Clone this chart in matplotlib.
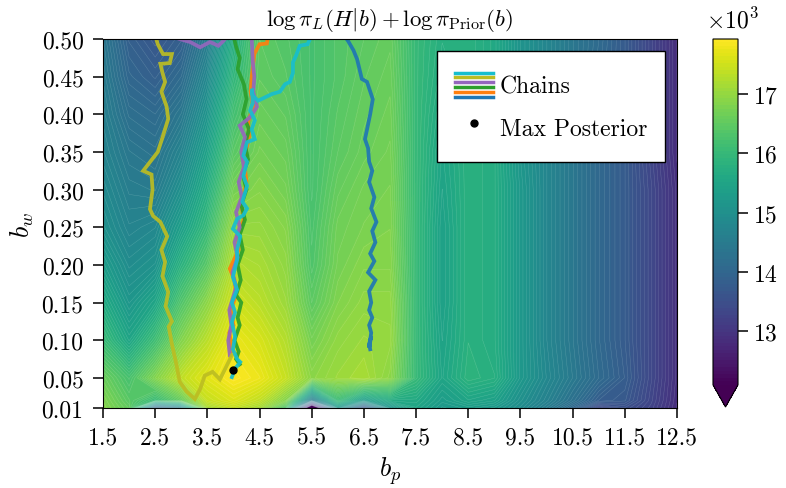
import numpy as np
import matplotlib
matplotlib.use('Agg')
import matplotlib.pyplot as plt
from matplotlib.legend_handler import HandlerBase
from matplotlib.lines import Line2D
from matplotlib.ticker import ScalarFormatter

plt.rcParams['font.family'] = 'serif'
plt.rcParams['font.serif'] = ['cmr10']
plt.rcParams['mathtext.fontset'] = 'cm'
plt.rcParams['axes.formatter.use_mathtext'] = True

# ---------------- data ----------------
b_p = [1.5, 2.0, 2.5, 3.0, 3.5, 4.0, 4.5, 5.0, 5.5, 6.0, 6.5, 7.0,
       7.5, 8.0, 8.5, 9.0, 9.5, 10.0, 10.5, 11.0, 11.5, 12.0, 12.5]
b_w = [0.01, 0.02, 0.05, 0.10, 0.15, 0.20, 0.25, 0.30, 0.35, 0.40, 0.45, 0.50]

# log posterior (in thousands), rows follow b_w, columns follow b_p
row_001 = [16.85, 16.5, 13.6, 14.3, 17.1, 17.35, 17.1, 16.2, 11.0, 15.0, 13.3, 15.0,
           15.5, 15.2, 15.3, 15.2, 14.9, 14.5, 14.0, 13.3, 13.5, 13.25, 12.85]
row_002 = [16.8, 16.4, 16.0, 16.5, 17.4, 17.6, 17.35, 16.8, 14.3, 16.0, 15.2, 15.6,
           15.6, 15.3, 15.5, 15.4, 15.0, 14.65, 14.25, 13.8, 13.7, 13.3, 12.87]
row_005 = [16.6, 16.2, 16.8, 17.35, 17.65, 17.9, 17.75, 17.4, 16.9, 17.05, 17.15, 16.9,
           16.0, 15.5, 15.85, 15.75, 15.2, 14.8, 14.45, 14.1, 13.8, 13.35, 12.9]
row_010 = [16.05, 15.5, 16.1, 16.8, 17.3, 17.75, 17.55, 17.25, 16.7, 16.95, 17.05, 17.0,
           16.0, 15.45, 15.8, 15.7, 15.2, 14.75, 14.4, 14.05, 13.75, 13.35, 12.9]
row_015 = [15.65, 15.15, 15.5, 16.3, 16.9, 17.5, 17.3, 17.05, 16.45, 16.8, 16.95, 16.95,
           16.0, 15.4, 15.8, 15.7, 15.2, 14.75, 14.4, 14.05, 13.75, 13.35, 12.9]
row_020 = [15.3, 14.9, 15.05, 15.8, 16.4, 17.25, 17.15, 16.95, 16.3, 16.7, 16.85, 16.85,
           16.0, 15.4, 15.8, 15.7, 15.2, 14.75, 14.4, 14.05, 13.75, 13.35, 12.9]
row_025 = [15.0, 14.7, 14.8, 15.35, 16.0, 17.0, 17.0, 16.85, 16.25, 16.65, 16.75, 16.8,
           16.0, 15.4, 15.8, 15.7, 15.2, 14.75, 14.4, 14.05, 13.75, 13.35, 12.9]
row_030 = [14.85, 14.55, 14.5, 15.0, 15.7, 16.7, 16.85, 16.7, 16.2, 16.55, 16.7, 16.75,
           16.0, 15.45, 15.8, 15.7, 15.2, 14.75, 14.4, 14.05, 13.75, 13.35, 12.9]
row_035 = [14.7, 14.4, 14.3, 14.7, 15.4, 16.4, 16.7, 16.6, 16.2, 16.45, 16.6, 16.7,
           16.0, 15.5, 15.8, 15.7, 15.15, 14.75, 14.4, 14.05, 13.75, 13.3, 12.85]
row_040 = [14.6, 14.2, 14.1, 14.4, 15.1, 16.15, 16.6, 16.5, 16.2, 16.4, 16.55, 16.65,
           16.0, 15.6, 15.8, 15.65, 15.1, 14.75, 14.4, 14.05, 13.75, 13.3, 12.85]
row_045 = [14.5, 14.0, 13.85, 14.1, 14.8, 15.9, 16.5, 16.4, 16.2, 16.35, 16.5, 16.6,
           16.0, 15.7, 15.8, 15.6, 15.1, 14.75, 14.4, 14.05, 13.75, 13.3, 12.85]
row_050 = [14.4, 13.85, 13.65, 13.85, 14.5, 15.7, 16.45, 16.35, 16.2, 16.35, 16.45, 16.55,
           16.0, 15.75, 15.8, 15.6, 15.1, 14.75, 14.4, 14.1, 13.75, 13.3, 12.85]

# MCMC chains (b_p, b_w)
chain_blue_bp = [6.12, 6.2, 6.3, 6.37, 6.46, 6.56, 6.67, 6.62, 6.56, 6.52, 6.58, 6.6, 6.66, 6.6,
                 6.7, 6.64, 6.74, 6.66, 6.72, 6.62, 6.7, 6.58, 6.72, 6.6, 6.64, 6.6, 6.66, 6.6,
                 6.64, 6.62, 6.6, 6.64, 6.6, 6.62]
chain_blue_bw = [0.505, 0.497, 0.485, 0.473, 0.447, 0.443, 0.42, 0.40, 0.38, 0.367, 0.355, 0.337,
                 0.325, 0.31, 0.29, 0.275, 0.257, 0.245, 0.23, 0.215, 0.205, 0.19, 0.18, 0.165,
                 0.15, 0.14, 0.13, 0.12, 0.11, 0.10, 0.09, 0.105, 0.095, 0.088]

chain_orange_bp = [4.99, 4.98, 4.9, 4.68, 4.64, 4.5, 4.4, 4.35, 4.33, 4.38, 4.28, 4.3, 4.2,
                   4.25, 4.15, 4.2, 4.08, 4.1, 3.93, 4.02, 4.05, 3.95, 4.0, 3.92, 3.96, 3.98]
chain_orange_bw = [0.52, 0.503, 0.515, 0.51, 0.494, 0.493, 0.48, 0.45, 0.43, 0.41, 0.39, 0.37,
                   0.34, 0.31, 0.28, 0.26, 0.24, 0.22, 0.195, 0.18, 0.16, 0.14, 0.12, 0.11,
                   0.095, 0.085]

chain_green_bp = [4.0, 4.05, 4.12, 4.08, 4.2, 4.25, 4.18, 4.3, 4.22, 4.28, 4.18, 4.25, 4.15,
                  4.22, 4.12, 4.18, 4.08, 4.14, 4.05, 4.15, 4.08, 4.12, 4.02, 4.1, 4.05, 4.12]
chain_green_bw = [0.505, 0.49, 0.475, 0.46, 0.44, 0.42, 0.40, 0.38, 0.36, 0.34, 0.32, 0.30, 0.28,
                  0.26, 0.24, 0.22, 0.20, 0.18, 0.16, 0.15, 0.13, 0.12, 0.10, 0.085, 0.075, 0.068]

chain_purple_bp = [2.97, 3.17, 3.36, 3.55, 3.71, 3.8, 3.9, 4.1, 4.35, 4.37, 4.4, 4.38, 4.45,
                   4.36, 4.3, 4.12, 4.22, 4.15, 4.2, 4.1, 4.16, 4.05, 4.12, 4.02, 4.08, 3.98,
                   4.05, 3.92, 3.96, 3.9, 3.93]
chain_purple_bw = [0.50, 0.496, 0.489, 0.496, 0.491, 0.497, 0.505, 0.52, 0.5, 0.47, 0.45, 0.43,
                   0.41, 0.40, 0.395, 0.385, 0.37, 0.35, 0.33, 0.31, 0.29, 0.27, 0.25, 0.23,
                   0.21, 0.19, 0.17, 0.14, 0.12, 0.1, 0.08]

chain_olive_bp = [2.5, 2.55, 2.65, 2.82, 2.78, 2.6, 2.64, 2.69, 2.62, 2.72, 2.75, 2.63, 2.55,
                  2.27, 2.43, 2.45, 2.4, 2.46, 2.6, 2.73, 2.62, 2.69, 2.64, 2.75, 2.7, 2.82,
                  2.76, 2.82, 2.9, 2.97, 3.1, 3.26, 3.36, 3.45, 3.6, 3.74, 3.87, 3.97]
chain_olive_bw = [0.505, 0.493, 0.48, 0.48, 0.468, 0.467, 0.455, 0.443, 0.43, 0.41, 0.394,
                  0.367, 0.35, 0.325, 0.32, 0.3, 0.274, 0.265, 0.257, 0.238, 0.22, 0.204, 0.185,
                  0.164, 0.145, 0.125, 0.118, 0.095, 0.07, 0.045, 0.032, 0.022, 0.035, 0.053,
                  0.058, 0.048, 0.066, 0.08]

chain_cyan_bp = [5.5, 5.42, 5.27, 5.2, 5.14, 5.14, 5.08, 4.99, 4.89, 4.74, 4.47, 4.37, 4.35,
                 4.37, 4.32, 4.41, 4.35, 4.41, 4.26, 4.19, 4.26, 4.19, 4.26, 4.17, 4.26, 4.19,
                 4.07, 3.99, 4.13, 4.07, 4.07, 3.99, 4.07, 3.97, 4.03, 3.97, 4.03, 3.99, 4.07,
                 4.13, 4.03, 3.97]
chain_cyan_bw = [0.505, 0.493, 0.491, 0.478, 0.469, 0.455, 0.443, 0.44, 0.43, 0.427, 0.418,
                 0.425, 0.434, 0.415, 0.405, 0.392, 0.38, 0.367, 0.363, 0.345, 0.337, 0.318,
                 0.305, 0.284, 0.275, 0.266, 0.261, 0.248, 0.238, 0.22, 0.207, 0.184, 0.167,
                 0.15, 0.137, 0.124, 0.105, 0.088, 0.075, 0.071, 0.062, 0.051]

max_post_bp = [4.0]
max_post_bw = [0.06]

x_ticks = [1.5, 2.5, 3.5, 4.5, 5.5, 6.5, 7.5, 8.5, 9.5, 10.5, 11.5, 12.5]
y_ticks = [0.01, 0.05, 0.10, 0.15, 0.20, 0.25, 0.30, 0.35, 0.40, 0.45, 0.50]
cbar_ticks = [13000, 14000, 15000, 16000, 17000]

# ---------------- plot ----------------
Z = np.array([row_001, row_002, row_005, row_010, row_015, row_020, row_025,
              row_030, row_035, row_040, row_045, row_050]) * 1000.0
X, Y = np.meshgrid(b_p, b_w)

fig = plt.figure(figsize=(7.86, 4.89), dpi=100)
ax = fig.add_axes([103 / 786, 1 - 409 / 489, 574 / 786, 369 / 489])
cax = fig.add_axes([713 / 786, 1 - 408 / 489, 25 / 786, 368 / 489])

levels = np.linspace(12100, 17920, 100)
cf = ax.contourf(X, Y, Z, levels=levels, cmap='viridis', extend='min')
cf.set_edgecolor('face')
cf.set_linewidth(0.4)
ax.contour(X, Y, Z, levels=levels, colors='white', linewidths=0.25, alpha=0.25)

chains = [
    (chain_blue_bp, chain_blue_bw, '#1f77b4'),
    (chain_orange_bp, chain_orange_bw, '#ff7f0e'),
    (chain_green_bp, chain_green_bw, '#2ca02c'),
    (chain_purple_bp, chain_purple_bw, '#9467bd'),
    (chain_olive_bp, chain_olive_bw, '#bcbd22'),
    (chain_cyan_bp, chain_cyan_bw, '#17becf'),
]
for cbp, cbw, col in chains:
    ax.plot(cbp, cbw, color=col, lw=2.7, alpha=0.92, solid_joinstyle='miter')

ax.plot(max_post_bp, max_post_bw, 'o', color='black', ms=5, zorder=5)

ax.set_xlim(1.5, 12.5)
ax.set_ylim(0.01, 0.50)
ax.set_xticks(x_ticks)
ax.set_xticklabels([f'{v:.1f}' for v in x_ticks])
ax.set_yticks(y_ticks)
ax.set_yticklabels([f'{v:.2f}' for v in y_ticks])
ax.tick_params(labelsize=17, length=7, width=1.1)
ax.tick_params(axis='y', pad=7)
ax.tick_params(axis='x', pad=6)
ax.set_xlabel(r'$b_p$', fontsize=19)
ax.set_ylabel(r'$b_w$', fontsize=19)
ax.set_title(r'$\log\pi_L(H|b) + \log\pi_{\rm Prior}(b)$', fontsize=16.5, pad=10)


class MultiLineHandler(HandlerBase):
    def __init__(self, colors, **kw):
        super().__init__(**kw)
        self.colors = colors

    def create_artists(self, legend, orig_handle, xdescent, ydescent, width,
                       height, fontsize, trans):
        arts = []
        n = len(self.colors)
        span = min(height, 1.25 * fontsize)
        y0 = -ydescent + (height - span) / 2.0
        for i, c in enumerate(self.colors):
            y = y0 + span * (i + 0.5) / n
            arts.append(Line2D([-xdescent, width - xdescent], [y, y], color=c,
                               lw=2.5, transform=trans))
        return arts


proxy = Line2D([], [], color='k')
dot = Line2D([], [], marker='o', color='black', ls='none', ms=5)
leg = ax.legend([proxy, dot], ['Chains', 'Max Posterior'],
                handler_map={proxy: MultiLineHandler([c[2] for c in chains])},
                loc='upper right', fontsize=17, frameon=True, fancybox=False,
                framealpha=1, edgecolor='black', handleheight=1.75,
                handlelength=1.6, handletextpad=0.32, labelspacing=0.43,
                borderpad=0.75, borderaxespad=0.5)
leg.get_frame().set_linewidth(1.0)

cbar = fig.colorbar(cf, cax=cax, extendfrac=0.064, ticks=cbar_ticks)
fmt = ScalarFormatter(useMathText=True)
fmt.set_powerlimits((3, 3))
cbar.ax.yaxis.set_major_formatter(fmt)
cbar.ax.tick_params(labelsize=17, length=7, width=1.1)
off = cbar.ax.yaxis.get_offset_text()
off.set_fontsize(17)
off.set_horizontalalignment('left')
off.set_position((-0.3, off.get_position()[1]))
cbar.ax.yaxis.OFFSETTEXTPAD = 8

fig.savefig('out.png', dpi=100)
